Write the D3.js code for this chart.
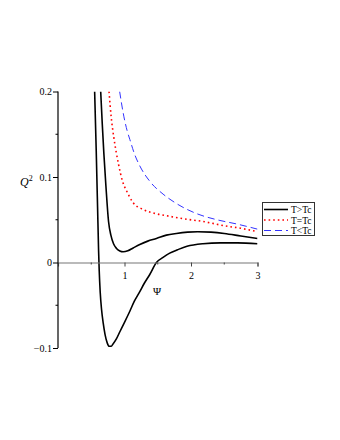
<!DOCTYPE html>
<html>
<head>
<meta charset="utf-8">
<script src="https://cdn.jsdelivr.net/npm/d3@7/dist/d3.min.js"></script>
<style>
html,body{margin:0;padding:0;background:#fff;}
svg{display:block;}
text{font-family:"Liberation Serif","DejaVu Serif",serif;}
</style>
</head>
<body>
<svg id="chart" width="340" height="440"></svg>
<script>
// ---- data ----
const seriesNames = ["T>Tc", "T=Tc", "T<Tc"];
const xTicks = [1, 2, 3];
const yTicks = [-0.1, 0, 0.1, 0.2];
const yTickLabels = ["\u22120.1", "0", "0.1", "0.2"];

const upperBlackPsi = [0.642,0.665,0.69,0.72,0.76,0.795,0.835,0.88,0.93,0.98,1.05,1.13,1.23,1.35,1.48,1.63,1.78,1.95,2.1,2.3,2.5,2.75,3.0];
const upperBlackQ2  = [0.2,0.163,0.127,0.09,0.048,0.032,0.022,0.0165,0.0135,0.0125,0.0137,0.017,0.021,0.025,0.028,0.032,0.034,0.0355,0.036,0.0355,0.034,0.031,0.028];

const lowerBlackPsi = [0.551,0.575,0.595,0.61,0.62,0.635,0.655,0.68,0.707,0.74,0.77,0.8,0.83,0.88,0.93,1.0,1.08,1.15,1.23,1.3,1.38,1.48,1.58,1.68,1.8,1.94,2.18,2.44,2.7,3.0];
const lowerBlackQ2  = [0.2,0.13,0.065,0.015,-0.01,-0.035,-0.055,-0.071,-0.084,-0.094,-0.098,-0.098,-0.095,-0.089,-0.081,-0.07,-0.057,-0.045,-0.034,-0.024,-0.014,0.0,0.006,0.011,0.015,0.019,0.022,0.023,0.023,0.022];

const redPsi = [0.767,0.8,0.84,0.91,0.97,1.03,1.13,1.28,1.48,1.68,1.9,2.18,2.5,2.75,3.0];
const redQ2  = [0.2,0.17,0.146,0.115,0.095,0.084,0.07,0.062,0.057,0.054,0.051,0.048,0.043,0.04,0.036];

const bluePsi = [0.927,0.98,1.04,1.08,1.15,1.23,1.38,1.58,1.78,2.09,2.39,2.69,3.0];
const blueQ2  = [0.2,0.175,0.154,0.144,0.127,0.113,0.095,0.08,0.069,0.057,0.05,0.045,0.039];

// ---- chart ----
const svg = d3.select("#chart");
const x = d3.scaleLinear().domain([0, 3]).range([58, 257.5]);
const y = d3.scaleLinear().domain([-0.1, 0.2]).range([348, 91.5]);

svg.append("defs").append("clipPath").attr("id","clip")
  .append("rect").attr("x", x(0)).attr("y", y(0.2)).attr("width", x(3)-x(0)).attr("height", y(-0.1)-y(0.2));

const zip = (a,b) => a.map((v,i)=>[v,b[i]]);
const line = d3.line().x(d=>x(d[0])).y(d=>y(d[1])).curve(d3.curveMonotoneX);

const g = svg.append("g").attr("clip-path","url(#clip)");
const series = [
  {data: zip(upperBlackPsi, upperBlackQ2), color:"#000", w:1.6, dash:null},
  {data: zip(lowerBlackPsi, lowerBlackQ2), color:"#000", w:1.6, dash:null},
  {data: zip(redPsi, redQ2), color:"#ff0000", w:1.6, dash:"1.6,3"},
  {data: zip(bluePsi, blueQ2), color:"#3333ff", w:1, dash:"7,4"}
];

// axes
const xAxis = d3.axisBottom(x).tickValues(xTicks).tickSize(4).tickFormat(d3.format("d"));
const xa = svg.append("g").attr("transform", `translate(0,${y(0)})`).call(xAxis);
xa.select(".domain").attr("stroke","#777").attr("stroke-width",1.2);
xa.selectAll(".tick line").attr("stroke","#444");
xa.selectAll(".tick text").attr("font-size",10).attr("font-family","Liberation Serif, serif").attr("fill","#000").attr("dy","0.9em");
svg.append("g").selectAll("line").data([0.5,1.5,2.5]).join("line")
  .attr("x1",d=>x(d)).attr("x2",d=>x(d)).attr("y1",y(0)).attr("y2",y(0)+2)
  .attr("stroke","#444");

const yAxis = d3.axisLeft(y).tickValues(yTicks).tickSize(5).tickFormat((d,i)=>yTickLabels[i]);
const ya = svg.append("g").attr("transform", `translate(${x(0)},0)`).call(yAxis);
ya.select(".domain").attr("stroke","#000").attr("stroke-width",1.2).attr("d", `M0,${y(0.2)}V${y(-0.1)}`);
ya.selectAll(".tick line").attr("stroke","#000");
ya.selectAll(".tick text").attr("font-size",10).attr("font-family","Liberation Serif, serif").attr("fill","#000").attr("x",-6);
svg.append("g").selectAll("line").data([-0.05,0.05,0.15]).join("line")
  .attr("x1",x(0)-2.5).attr("x2",x(0)).attr("y1",d=>y(d)).attr("y2",d=>y(d))
  .attr("stroke","#000");

series.forEach(s=>{
  g.append("path").attr("d", line(s.data)).attr("fill","none")
    .attr("stroke", s.color).attr("stroke-width", s.w)
    .attr("stroke-dasharray", s.dash);
});

// axis labels
svg.append("text").attr("x",157).attr("y",295).attr("text-anchor","middle")
  .attr("font-size",11).text("\u03A8");
const ql = svg.append("text").attr("x",20).attr("y",186).attr("font-size",12);
ql.append("tspan").attr("font-style","italic").text("Q");
ql.append("tspan").attr("font-size",8).attr("dy",-5).text("2");

// legend
const lg = svg.append("g");
lg.append("rect").attr("x",262.5).attr("y",202.5).attr("width",52).attr("height",33)
  .attr("fill","#fff").attr("stroke","#333").attr("stroke-width",1);
const legStyles = [series[0], series[2], series[3]];
seriesNames.forEach((n,i)=>{
  const yy = 209.5 + i*10.5;
  lg.append("line").attr("x1",264).attr("x2",288).attr("y1",yy).attr("y2",yy)
    .attr("stroke",legStyles[i].color).attr("stroke-width",legStyles[i].w)
    .attr("stroke-dasharray",legStyles[i].dash);
  lg.append("text").attr("x",291).attr("y",yy+3.5).attr("font-size",9.5).text(n);
});
</script>
</body>
</html>
